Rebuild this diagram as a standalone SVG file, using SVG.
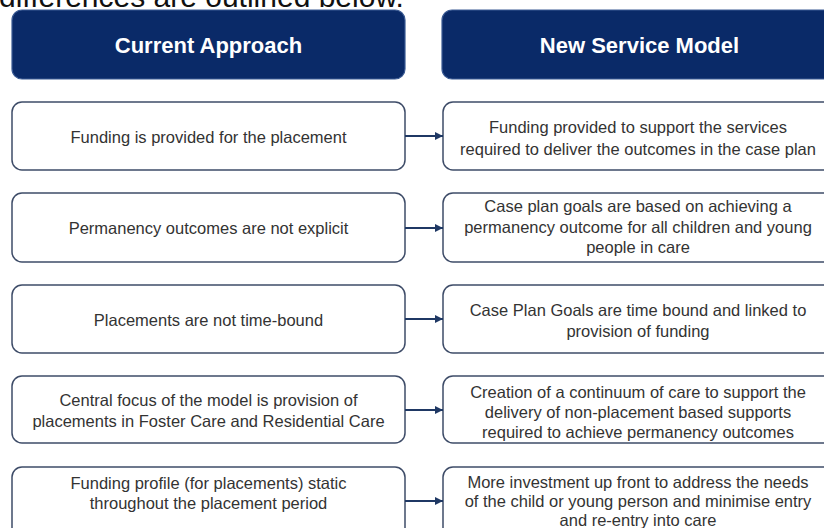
<svg xmlns="http://www.w3.org/2000/svg" width="824" height="528" viewBox="0 0 824 528">
<style>
.hdr{fill:#0a2a68;stroke:#3a5a93;stroke-width:1.2}
.hdrt{font-family:"Liberation Sans",Arial,sans-serif;font-weight:bold;font-size:22px;fill:#ffffff;text-anchor:middle}
.box{fill:#ffffff;stroke:#3e4c68;stroke-width:1.5}
.t{font-family:"Liberation Sans",Arial,sans-serif;font-size:16.5px;fill:#333333;text-anchor:middle}
.top{font-family:"Liberation Sans",Arial,sans-serif;font-size:30px;fill:#111111}
.conn{stroke:#1f3864;stroke-width:2;fill:none}
</style>
<defs>
<marker id="ah" markerUnits="userSpaceOnUse" markerWidth="8" markerHeight="8" refX="8" refY="4" orient="auto">
<path d="M0,0 L8,4 L0,8 z" fill="#1f3864"/>
</marker>
</defs>
<rect width="824" height="528" fill="#ffffff"/>
<text class="top" x="-1" y="7">differences are outlined below.</text>

<g id="hdr-current">
<rect class="hdr" x="12" y="10" width="393" height="69" rx="10"/>
<text class="hdrt" x="208.5" y="53">Current Approach</text>
</g>
<g id="hdr-new">
<rect class="hdr" x="442" y="10" width="395" height="69" rx="10"/>
<text class="hdrt" x="639.5" y="53">New Service Model</text>
</g>

<g id="c1">
<rect class="box" x="12" y="102" width="393" height="68" rx="10"/>
<text class="t" x="208.5" y="142.5">Funding is provided for the placement</text>
</g>
<g id="n1">
<rect class="box" x="443" y="102" width="392" height="68" rx="10"/>
<text class="t" x="638" y="133">Funding provided to support the services</text>
<text class="t" x="638" y="155">required to deliver the outcomes in the case plan</text>
</g>

<g id="c2">
<rect class="box" x="12" y="193" width="393" height="69" rx="10"/>
<text class="t" x="208.5" y="234">Permanency outcomes are not explicit</text>
</g>
<g id="n2">
<rect class="box" x="443" y="193" width="392" height="69" rx="10"/>
<text class="t" x="638" y="211.5">Case plan goals are based on achieving a</text>
<text class="t" x="638" y="232.5">permanency outcome for all children and young</text>
<text class="t" x="638" y="253">people in care</text>
</g>

<g id="c3">
<rect class="box" x="12" y="285" width="393" height="68" rx="10"/>
<text class="t" x="208.5" y="326">Placements are not time-bound</text>
</g>
<g id="n3">
<rect class="box" x="443" y="285" width="392" height="68" rx="10"/>
<text class="t" x="638" y="316">Case Plan Goals are time bound and linked to</text>
<text class="t" x="638" y="336.5">provision of funding</text>
</g>

<g id="c4">
<rect class="box" x="12" y="376" width="393" height="67" rx="10"/>
<text class="t" x="208.5" y="406">Central focus of the model is provision of</text>
<text class="t" x="208.5" y="426.5">placements in Foster Care and Residential Care</text>
</g>
<g id="n4">
<rect class="box" x="443" y="376" width="392" height="67" rx="10"/>
<text class="t" x="638" y="397.5">Creation of a continuum of care to support the</text>
<text class="t" x="638" y="418">delivery of non-placement based supports</text>
<text class="t" x="638" y="438">required to achieve permanency outcomes</text>
</g>

<g id="c5">
<rect class="box" x="12" y="467" width="393" height="75" rx="10"/>
<text class="t" x="208.5" y="489">Funding profile (for placements) static</text>
<text class="t" x="208.5" y="509">throughout the placement period</text>
</g>
<g id="n5">
<rect class="box" x="443" y="467" width="392" height="75" rx="10"/>
<text class="t" x="638" y="487.5">More investment up front to address the needs</text>
<text class="t" x="638" y="506.5">of the child or young person and minimise entry</text>
<text class="t" x="638" y="526">and re-entry into care</text>
</g>

<g id="connectors">
<line class="conn" x1="405" y1="136" x2="443" y2="136" marker-end="url(#ah)"/>
<line class="conn" x1="405" y1="228" x2="443" y2="228" marker-end="url(#ah)"/>
<line class="conn" x1="405" y1="319" x2="443" y2="319" marker-end="url(#ah)"/>
<line class="conn" x1="405" y1="410" x2="443" y2="410" marker-end="url(#ah)"/>
<line class="conn" x1="405" y1="501" x2="443" y2="501" marker-end="url(#ah)"/>
</g>
</svg>
